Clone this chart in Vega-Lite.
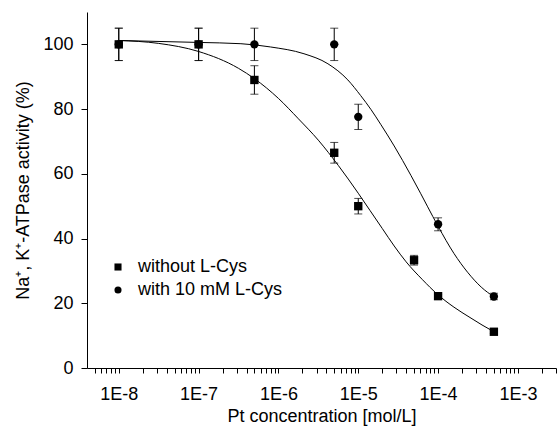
{
  "$schema": "https://vega.github.io/schema/vega-lite/v6.json",
  "width": 469,
  "height": 356,
  "autosize": "none",
  "padding": {"left": 87, "top": 12, "right": 2, "bottom": 62},
  "background": "white",
  "config": {
    "view": {"stroke": null},
    "font": "Liberation Sans",
    "axis": {"domainColor": "black", "tickColor": "black", "labelColor": "black", "titleColor": "black", "grid": false, "ticks": true, "labelFontSize": 18, "titleFontSize": 18, "titleFontWeight": "normal", "domainWidth": 1, "tickWidth": 1}
  },
  "datasets": {
    "pts": [
      {"conc": 1e-8, "act": 100, "err": 5, "series": "without L-Cys"},
      {"conc": 1e-7, "act": 100, "err": 5, "series": "without L-Cys"},
      {"conc": 5e-7, "act": 89, "err": 4.4, "series": "without L-Cys"},
      {"conc": 5e-6, "act": 66.5, "err": 3.2, "series": "without L-Cys"},
      {"conc": 1e-5, "act": 50, "err": 2.4, "series": "without L-Cys"},
      {"conc": 5e-5, "act": 33.3, "err": 1.5, "series": "without L-Cys"},
      {"conc": 1e-4, "act": 22.2, "err": 0.6, "series": "without L-Cys"},
      {"conc": 5e-4, "act": 11.2, "err": 0.5, "series": "without L-Cys"},
      {"conc": 1e-8, "act": 100, "err": 5, "series": "with 10 mM L-Cys"},
      {"conc": 1e-7, "act": 100, "err": 5, "series": "with 10 mM L-Cys"},
      {"conc": 5e-7, "act": 100, "err": 5, "series": "with 10 mM L-Cys"},
      {"conc": 5e-6, "act": 100, "err": 5, "series": "with 10 mM L-Cys"},
      {"conc": 1e-5, "act": 77.6, "err": 3.9, "series": "with 10 mM L-Cys"},
      {"conc": 1e-4, "act": 44.4, "err": 2.0, "series": "with 10 mM L-Cys"},
      {"conc": 5e-4, "act": 22.1, "err": 1.0, "series": "with 10 mM L-Cys"}
    ],
    "fit": [
      {"conc": 1e-8, "act": 101.2, "series": "without L-Cys"},
      {"conc": 3.16e-8, "act": 100.3, "series": "without L-Cys"},
      {"conc": 1e-7, "act": 97.8, "series": "without L-Cys"},
      {"conc": 3.16e-7, "act": 92.6, "series": "without L-Cys"},
      {"conc": 5.01e-7, "act": 89.4, "series": "without L-Cys"},
      {"conc": 1e-6, "act": 83.3, "series": "without L-Cys"},
      {"conc": 1.78e-6, "act": 77.0, "series": "without L-Cys"},
      {"conc": 3.16e-6, "act": 70.4, "series": "without L-Cys"},
      {"conc": 5.62e-6, "act": 62.6, "series": "without L-Cys"},
      {"conc": 1e-5, "act": 54.0, "series": "without L-Cys"},
      {"conc": 1.41e-5, "act": 48.6, "series": "without L-Cys"},
      {"conc": 2e-5, "act": 43.1, "series": "without L-Cys"},
      {"conc": 2.82e-5, "act": 37.7, "series": "without L-Cys"},
      {"conc": 3.98e-5, "act": 32.8, "series": "without L-Cys"},
      {"conc": 6.31e-5, "act": 27.4, "series": "without L-Cys"},
      {"conc": 1e-4, "act": 22.6, "series": "without L-Cys"},
      {"conc": 1.58e-4, "act": 18.8, "series": "without L-Cys"},
      {"conc": 2.51e-4, "act": 15.6, "series": "without L-Cys"},
      {"conc": 3.55e-4, "act": 13.3, "series": "without L-Cys"},
      {"conc": 5.01e-4, "act": 11.2, "series": "without L-Cys"},
      {"conc": 1e-8, "act": 101.2, "series": "with 10 mM L-Cys"},
      {"conc": 1e-7, "act": 100.6, "series": "with 10 mM L-Cys"},
      {"conc": 3.39e-7, "act": 100.2, "series": "with 10 mM L-Cys"},
      {"conc": 7.94e-7, "act": 99.2, "series": "with 10 mM L-Cys"},
      {"conc": 2.09e-6, "act": 97.1, "series": "with 10 mM L-Cys"},
      {"conc": 4.17e-6, "act": 94.0, "series": "with 10 mM L-Cys"},
      {"conc": 7.41e-6, "act": 89.0, "series": "with 10 mM L-Cys"},
      {"conc": 1.07e-5, "act": 84.2, "series": "with 10 mM L-Cys"},
      {"conc": 1.45e-5, "act": 79.8, "series": "with 10 mM L-Cys"},
      {"conc": 1.91e-5, "act": 75.3, "series": "with 10 mM L-Cys"},
      {"conc": 2.82e-5, "act": 68.6, "series": "with 10 mM L-Cys"},
      {"conc": 4.57e-5, "act": 59.5, "series": "with 10 mM L-Cys"},
      {"conc": 6.03e-5, "act": 54.0, "series": "with 10 mM L-Cys"},
      {"conc": 7.41e-5, "act": 49.8, "series": "with 10 mM L-Cys"},
      {"conc": 1e-4, "act": 43.8, "series": "with 10 mM L-Cys"},
      {"conc": 1.58e-4, "act": 35.4, "series": "with 10 mM L-Cys"},
      {"conc": 2.34e-4, "act": 29.6, "series": "with 10 mM L-Cys"},
      {"conc": 3.47e-4, "act": 25.0, "series": "with 10 mM L-Cys"},
      {"conc": 5e-4, "act": 22.0, "series": "with 10 mM L-Cys"}
    ]
  },
  "encoding": {
    "x": {"field": "conc", "type": "quantitative", "scale": {"type": "log", "domain": [4e-9, 3e-3], "nice": false},
      "axis": {"orient": "bottom", "ticks": true,
        "values": [5e-9, 6e-9, 7e-9, 8e-9, 9e-9, 1e-8, 2e-8, 3e-8, 4e-8, 5e-8, 6e-8, 7e-8, 8e-8, 9e-8, 1e-7, 2e-7, 3e-7, 4e-7, 5e-7, 6e-7, 7e-7, 8e-7, 9e-7, 1e-6, 2e-6, 3e-6, 4e-6, 5e-6, 6e-6, 7e-6, 8e-6, 9e-6, 1e-5, 2e-5, 3e-5, 4e-5, 5e-5, 6e-5, 7e-5, 8e-5, 9e-5, 1e-4, 2e-4, 3e-4, 4e-4, 5e-4, 6e-4, 7e-4, 8e-4, 9e-4, 1e-3, 2e-3, 3e-3],
        "labelExpr": "abs(log(datum.value)/LN10 - round(log(datum.value)/LN10)) < 0.001 ? upper(format(datum.value, '.0e')) : ''",
        "tickSize": 5,
        "encode": {"ticks": {"update": {"y2": {"signal": "abs(log(datum.value)/LN10 - round(log(datum.value)/LN10)) < 0.001 ? 5 : 3"}}}},
        "labelOverlap": false,
        "labelPadding": 12,
        "title": "Pt concentration [mol/L]",
        "titlePadding": 4}},
    "y": {"field": "act", "type": "quantitative", "scale": {"domain": [0, 110], "nice": false},
      "axis": {"values": [0, 20, 40, 60, 80, 100], "ticks": true, "title": "Na⁺, K⁺-ATPase activity (%)", "tickSize": 6, "labelPadding": 8, "titlePadding": 10}}
  },
  "layer": [
    {
      "data": {"name": "fit"},
      "mark": {"type": "line", "color": "black", "strokeWidth": 1, "interpolate": "monotone"},
      "encoding": {
        "detail": {"field": "series", "type": "nominal"}
      }
    },
    {
      "data": {"name": "pts"},
      "mark": {"type": "errorbar", "ticks": true, "color": "black", "thickness": 1, "size": 8},
      "encoding": {
        "yError": {"field": "err"}
      }
    },
    {
      "data": {"name": "pts"},
      "mark": {"type": "point", "filled": true, "color": "black", "opacity": 1, "size": 70},
      "encoding": {
        "shape": {"field": "series", "type": "nominal", "scale": {"domain": ["without L-Cys", "with 10 mM L-Cys"], "range": ["square", "circle"]},
          "legend": {"orient": "none", "legendX": 22, "legendY": 246, "title": null, "labelFontSize": 18, "labelColor": "black", "symbolSize": 50, "labelOffset": 11, "rowPadding": 5, "symbolFillColor": "black", "symbolStrokeColor": "black", "padding": 0}}
      }
    }
  ]
}
